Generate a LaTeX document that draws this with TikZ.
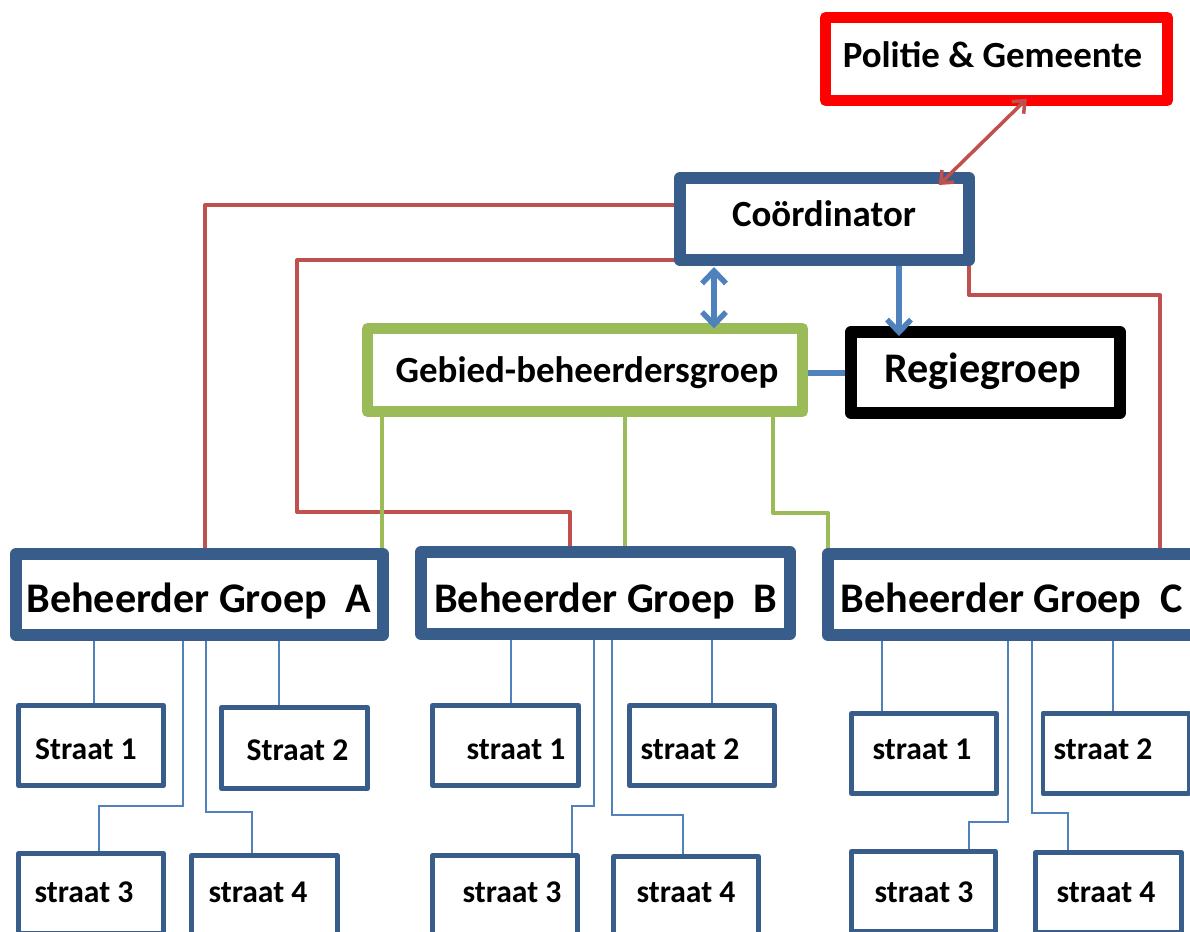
\documentclass[tikz,border=0pt]{standalone}
\usepackage{fontspec}
\setmainfont{Carlito}
\usetikzlibrary{arrows.meta,backgrounds}
\definecolor{dblue}{HTML}{385D8A}
\definecolor{lblue}{HTML}{4F81BD}
\definecolor{rline}{HTML}{C0504D}
\definecolor{gline}{HTML}{9BBB59}
\tikzset{
  box/.style={draw, rectangle, fill=white, inner sep=0pt, outer sep=0pt, line join=round},
  sz/.style 2 args={minimum width=#1*0.02cm, minimum height=#2*0.02cm},
  bluebox/.style={box, draw=dblue, line width=6.8pt},
  redbox/.style={box, draw=red, line width=6.3pt},
  greenbox/.style={box, draw=gline, line width=6.3pt},
  blackbox/.style={box, draw=black, line width=6.8pt},
  streetbox/.style={box, draw=dblue, line width=2.8pt},
  lbl/.style={anchor=base, inner sep=0pt},
  ftA/.style={lbl, font=\bfseries\fontsize{21}{25}\selectfont},
  ftB/.style={lbl, font=\bfseries\fontsize{24}{28}\selectfont},
  ftC/.style={lbl, font=\bfseries\fontsize{18}{22}\selectfont},
  redconn/.style={draw=rline, line width=2.3pt, line join=round},
  greenconn/.style={draw=gline, line width=2.3pt, line join=round},
  blueconn/.style={draw=lblue, line width=3.1pt},
  thinconn/.style={draw=lblue, line width=1.1pt},
  bbarb/.tip={Straight Barb[length=0.25cm, width=0.48cm]},
  rbarb/.tip={Straight Barb[length=0.2cm, width=0.34cm]},
}
\begin{document}
\begin{tikzpicture}[x=0.02cm, y=-0.02cm]
\useasboundingbox (0,0) rectangle (1190,931);
\clip (0,0) rectangle (1190,931);

% main boxes
\node[redbox, sz={342}{83}] (pol) at (996.5,59) {};
\node[bluebox, sz={289}{82}] (coord) at (824.5,219) {};
\node[greenbox, sz={435}{83}] (geb) at (585,370) {};
\node[blackbox, sz={269}{81}] (reg) at (985.5,372.5) {};
\node[bluebox, sz={367}{81}] (ga) at (199.5,594.5) {};
\node[bluebox, sz={369}{82}] (gb) at (605.5,593) {};
\node[bluebox, sz={369}{81}] (gc) at (1012.5,594.5) {};

% street boxes
\node[streetbox, sz={145}{80}] (a1) at (91,745.5) {};
\node[streetbox, sz={146}{81}] (a2) at (294.5,748) {};
\node[streetbox, sz={145}{80}] (a3) at (91,893.5) {};
\node[streetbox, sz={146}{80}] (a4) at (264.5,895.5) {};
\node[streetbox, sz={146}{80}] (b1) at (505.5,745.5) {};
\node[streetbox, sz={145}{80}] (b2) at (702,745.5) {};
\node[streetbox, sz={145}{80}] (b3) at (505,895.5) {};
\node[streetbox, sz={145}{80}] (b4) at (686,896.5) {};
\node[streetbox, sz={145}{80}] (c1) at (924,753.5) {};
\node[streetbox, sz={146}{80}] (c2) at (1116,753.5) {};
\node[streetbox, sz={144}{80}] (c3) at (923.5,891.5) {};
\node[streetbox, sz={146}{80}] (c4) at (1108.5,892.5) {};

% labels
\node[ftA] (tpol) at (992.5,67) {Politie \& Gemeente};
\node[ftA] (tcoord) at (824,226.5) {Coördinator};
\node[ftA] (tgeb) at (587,382) {Gebied-beheerdersgroep};
\node[ftB] (treg) at (983,382) {Regiegroep};
\node[ftB] (tga) at (199,612) {Beheerder Groep~~A};
\node[ftB] (tgb) at (606,612) {Beheerder Groep~~B};
\node[ftB] (tgc) at (1012,612) {Beheerder Groep~~C};

\node[ftC] (ta1) at (86,759) {Straat 1};
\node[ftC] (ta2) at (297.5,760) {Straat 2};
\node[ftC] (ta3) at (84,902) {straat 3};
\node[ftC] (ta4) at (258,902) {straat 4};
\node[ftC] (tb1) at (516,759) {straat 1};
\node[ftC] (tb2) at (690,759) {straat 2};
\node[ftC] (tb3) at (512,902) {straat 3};
\node[ftC] (tb4) at (686,902) {straat 4};
\node[ftC] (tc1) at (922,759) {straat 1};
\node[ftC] (tc2) at (1103,759) {straat 2};
\node[ftC] (tc3) at (924,902) {straat 3};
\node[ftC] (tc4) at (1106,902) {straat 4};

\begin{pgfonlayer}{background}
  % red connectors
  \draw[redconn] (coord.west |- 0,205) -| (ga.north -| 205,0);
  \draw[redconn] (coord.south west) -| (297,512) -| (gb.north -| 570,0);
  \draw[redconn] (coord.south east) |- (1160,295) -- (gc.north -| 1160,0);
  % green connectors
  \draw[greenconn] (geb.south -| 382,0) -- (ga.north -| 382,0);
  \draw[greenconn] (geb.south -| 625,0) -- (gb.north -| 625,0);
  \draw[greenconn] (geb.south -| 773,0) |- (828,513) -- (gc.north west);
  % blue line
  \draw[blueconn] (geb.east |- 0,373) -- (reg.west |- 0,373);
  % thin connectors group A
  \draw[thinconn] (ga.south -| 94,0) -- (a1.north -| 94,0);
  \draw[thinconn] (ga.south -| 183,0) |- (99,806) -- (a3.north -| 99,0);
  \draw[thinconn] (ga.south -| 206,0) |- (252,812) -- (a4.north -| 252,0);
  \draw[thinconn] (ga.south -| 279,0) -- (a2.north -| 279,0);
  % group B
  \draw[thinconn] (gb.south -| 511,0) -- (b1.north -| 511,0);
  \draw[thinconn] (gb.south -| 594,0) |- (572,806) -- (b3.north -| 572,0);
  \draw[thinconn] (gb.south -| 612,0) |- (683,815) -- (b4.north -| 683,0);
  \draw[thinconn] (gb.south -| 712,0) -- (b2.north -| 712,0);
  % group C
  \draw[thinconn] (gc.south -| 882,0) -- (c1.north -| 882,0);
  \draw[thinconn] (gc.south -| 1008,0) |- (969,822) -- (c3.north -| 969,0);
  \draw[thinconn] (gc.south -| 1032,0) |- (1068,813) -- (c4.north -| 1068,0);
  \draw[thinconn] (gc.south -| 1113,0) -- (c2.north -| 1113,0);
\end{pgfonlayer}

% arrows
\draw[blueconn, bbarb-bbarb, shorten <=0.14cm] (coord.south -| 714,0) -- (geb.north -| 714,0);
\draw[blueconn, -bbarb, shorten <=0.12cm, shorten >=-0.08cm] (coord.south -| 899,0) -- (reg.north -| 899,0);
\draw[draw=rline, line width=2pt, rbarb-rbarb, shorten <=-0.2cm, shorten >=-0.05cm] (coord.north -| 946,0) -- (pol.south -| 1025,0);
\end{tikzpicture}
\end{document}
